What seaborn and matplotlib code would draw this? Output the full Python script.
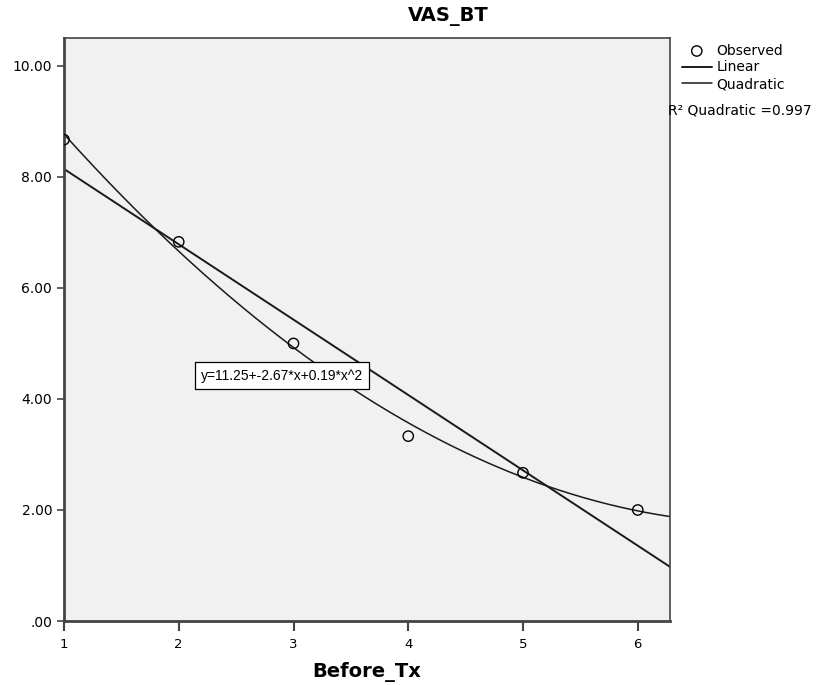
import numpy as np
import pandas as pd
import matplotlib
matplotlib.use("Agg")
import matplotlib.pyplot as plt
import seaborn as sns

before_tx = [1, 2, 3, 4, 5, 6]
vas_bt = [8.67, 6.83, 5.00, 3.33, 2.67, 2.00]

x_ticks = [1, 2, 3, 4, 5, 6]
y_ticks = [0, 2, 4, 6, 8, 10]

equation_text = "y=11.25+-2.67*x+0.19*x^2"
r2_text = "R² Quadratic =0.997"

sns.set_style("ticks", {"axes.facecolor": "#f1f1f1"})
plt.rcParams['font.family'] = ['DejaVu Sans']
plt.rcParams['text.color'] = 'black'
plt.rcParams['xtick.labelcolor'] = 'black'
plt.rcParams['ytick.labelcolor'] = 'black'
plt.rcParams['axes.labelcolor'] = 'black'

df = pd.DataFrame({'Before_Tx': before_tx, 'VAS_BT': vas_bt})

# Fit lines from the observed data
lin = np.polyfit(df['Before_Tx'], df['VAS_BT'], 1)
quad = np.polyfit(df['Before_Tx'], df['VAS_BT'], 2)
xs = np.linspace(1, 6.28, 200)
fit_df = pd.DataFrame({'x': xs,
                       'lin': np.polyval(lin, xs),
                       'quad': np.polyval(quad, xs)})

fig = plt.figure(figsize=(8.3, 6.85), dpi=100)
ax = fig.add_axes([0.0771, 0.0934, 0.73, 0.851])

sns.lineplot(data=fit_df, x='x', y='lin', ax=ax, color='#1a1a1a', lw=1.4, label='Linear')
sns.lineplot(data=fit_df, x='x', y='quad', ax=ax, color='#1a1a1a', lw=1.1, label='Quadratic')
sns.scatterplot(data=df, x='Before_Tx', y='VAS_BT', ax=ax, s=55, marker='o',
                facecolor='none', edgecolor='black', linewidth=1.0, label='Observed', zorder=5)

ax.set_xlim(1, 6.28)
ax.set_ylim(0, 10.5)
ax.set_xticks(x_ticks)
ax.set_yticks(y_ticks)
ax.set_yticklabels([".00" if v == 0 else f"{v:.2f}" for v in y_ticks])
ax.tick_params(axis='x', direction='out', length=7, labelsize=9.5, pad=5, width=1.5, color='#444444')
ax.tick_params(axis='y', direction='out', length=5, labelsize=10, width=1.2, color='#444444')

for side in ['left', 'bottom']:
    ax.spines[side].set_linewidth(2.0)
    ax.spines[side].set_color('#444444')
for side in ['top', 'right']:
    ax.spines[side].set_visible(True)
    ax.spines[side].set_linewidth(1.2)
    ax.spines[side].set_color('#444444')

ax.set_xlabel('Before_Tx', fontsize=14, fontweight='bold', labelpad=8)
ax.set_ylabel('')

fig.text(448 / 830, 1 - 16 / 685, 'VAS_BT', ha='center', va='center',
         fontsize=14, fontweight='bold')

ax.text(2.90, 4.42, equation_text, ha='center', va='center', fontsize=10,
        family='Liberation Sans',
        bbox=dict(boxstyle='square,pad=0.45', facecolor='white', edgecolor='black', lw=0.9))

handles, labels = ax.get_legend_handles_labels()
order = [labels.index('Observed'), labels.index('Linear'), labels.index('Quadratic')]
leg = ax.legend([handles[i] for i in order], [labels[i] for i in order],
                loc='upper left', bbox_to_anchor=(1.01, 1.0), frameon=False,
                fontsize=10, handlelength=2.2, handletextpad=0.3, labelspacing=0.2,
                borderaxespad=0.0)
fig.text(668 / 830, 1 - 110 / 685, r2_text, ha='left', va='center', fontsize=10)

fig.savefig('out.png', dpi=100, facecolor='white')
